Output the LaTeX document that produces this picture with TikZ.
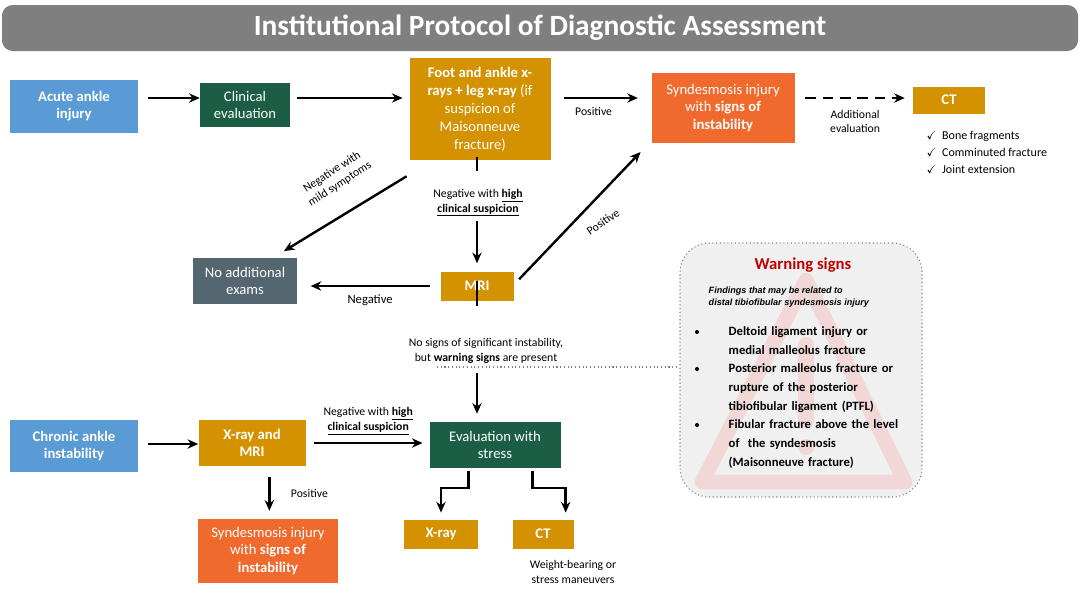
\documentclass[tikz,border=0pt]{standalone}
\usepackage{amssymb}
\usepackage{fontspec}
\setmainfont{Carlito}
\newfontfamily\arialf{Liberation Sans}
\usetikzlibrary{arrows.meta,positioning}
\definecolor{cblue}{HTML}{5B9BD5}
\definecolor{cgreen}{HTML}{1B5E45}
\definecolor{cgold}{HTML}{D49200}
\definecolor{corange}{HTML}{F06A2E}
\definecolor{cslate}{HTML}{546670}
\definecolor{ctitle}{HTML}{7F7F7F}
\definecolor{cred}{HTML}{C00000}
\tikzset{
 box/.style={draw=none,fill=#1,text=white,align=center,inner sep=2pt,font=\fontsize{11}{13}\selectfont},
 arr/.style={line width=1.8pt,-{Stealth[length=8pt,width=7pt]}},
 lab/.style={font=\fontsize{8.8}{10.8}\selectfont,align=center,text=black},
}
\begin{document}
\begin{tikzpicture}[x=0.75pt,y=-0.75pt]
\useasboundingbox (0,0) rectangle (1080,594);
\fill[white] (0,0) rectangle (1080,594);
% title
\node[fill=ctitle,rounded corners=8pt,minimum width=1076*0.75pt,minimum height=46*0.75pt,text=white,font=\fontsize{22}{24}\selectfont\bfseries] (title) at (540,28) {Institutional Protocol of Diagnostic Assessment};
% warning box
\node[draw=gray,dotted,line width=0.8pt,fill=black!6,rounded corners=22pt,minimum width=242*0.75pt,minimum height=254*0.75pt] (warn) at (801,370) {};
\draw[red!60!white,opacity=0.18,line width=11pt,line join=round] (702,482)--(806,280)--(905,482)--cycle;
\draw[red!60!white,opacity=0.18,line width=12pt,line cap=round] (806,345)--(806,420);
\fill[red!60!white,opacity=0.18] (806,447) circle (8);
\node[text=cred,font=\fontsize{12.5}{14}\selectfont\bfseries] (wt) at (803,265) {Warning signs};
\node[font=\arialf\fontsize{6.8}{9}\selectfont\bfseries\itshape,align=left,anchor=west] (wsub) at (704,297) {Findings that may be related to\\distal tibiofibular syndesmosis injury};
\node[font=\fontsize{9.5}{14}\selectfont\bfseries,align=left,anchor=north west,text width=190*0.75pt] (wl) at (724,322) {Deltoid ligament injury or\\medial malleolus fracture\\Posterior malleolus fracture or\\rupture of the posterior\\tibiofibular ligament (PTFL)\\Fibular fracture above the level\\of\ \ the syndesmosis\\(Maisonneuve fracture)};
\foreach \yy in {332,369,425}{\fill (697,\yy) circle (2);}
% boxes
\node[box=cblue,minimum width=128*0.75pt,minimum height=53*0.75pt] (acute) at (74,106) {\bfseries Acute ankle\\\bfseries injury};
\node[box=cgreen,minimum width=90*0.75pt,minimum height=44*0.75pt] (clin) at (245,105) {Clinical\\evaluation};
\node[box=cgold,minimum width=141*0.75pt,minimum height=102*0.75pt,font=\fontsize{11}{13.5}\selectfont] (foot) at (480,109) {\bfseries Foot and ankle x-\\\bfseries rays + leg x-ray \mdseries(if\\suspicion of\\Maisonneuve\\fracture)};
\node[box=corange,minimum width=143*0.75pt,minimum height=70*0.75pt] (synd) at (723,108) {Syndesmosis injury\\with \textbf{signs of}\\\textbf{instability}};
\node[box=cgold,minimum width=72*0.75pt,minimum height=27*0.75pt] (ct) at (949,100) {\bfseries CT};
\node[lab,align=left,anchor=north west,font=\fontsize{9}{12.8}\selectfont] (check) at (922,126) {$\checkmark$\ \ Bone fragments\\$\checkmark$\ \ Comminuted fracture\\$\checkmark$\ \ Joint extension};
\node[box=cslate,minimum width=104*0.75pt,minimum height=46*0.75pt] (noadd) at (245,281) {No additional\\exams};
\node[box=cgold,minimum width=73*0.75pt,minimum height=29*0.75pt] (mri) at (477,286) {\bfseries MRI};
\node[box=cblue,minimum width=128*0.75pt,minimum height=52*0.75pt] (chron) at (74,446) {\bfseries Chronic ankle\\\bfseries instability};
\node[box=cgold,minimum width=107*0.75pt,minimum height=46*0.75pt] (xmri) at (252,443) {\bfseries X-ray and\\\bfseries MRI};
\node[box=cgreen,minimum width=131*0.75pt,minimum height=46*0.75pt] (eval) at (495,445) {Evaluation with\\stress};
\node[box=corange,minimum width=140*0.75pt,minimum height=64*0.75pt] (synd2) at (268,551) {Syndesmosis injury\\with \textbf{signs of}\\\textbf{instability}};
\node[box=cgold,minimum width=74*0.75pt,minimum height=29*0.75pt] (xray) at (441,534) {\bfseries X-ray};
\node[box=cgold,minimum width=61*0.75pt,minimum height=29*0.75pt] (ct2) at (543,534) {\bfseries CT};
\node[lab] (wb) at (573,572) {Weight-bearing or\\stress maneuvers};
% connectors
\draw[arr] (acute.east)++(10,-8) coordinate (a1) -- (clin.west|-a1);
\draw[arr] (clin.east)++(7,-7) coordinate (a2) -- ([xshift=-5pt]foot.west|-a2);
\draw[arr] ([xshift=10pt,yshift=7.5pt]foot.east|-synd) coordinate (a3) -- ([xshift=-10pt]synd.west|-a3) node[lab,pos=0.4,below=3pt] {Positive};
\draw[line width=1.8pt,dashed,dash pattern=on 8pt off 5pt,-{Stealth[length=8pt,width=7pt]}] ([xshift=8pt,yshift=7.5pt]synd.east) -- ([xshift=-6pt,yshift=1.5pt]ct.west) node[lab,midway,below=5pt] {Additional\\evaluation};
\draw[arr] ([xshift=-2pt,yshift=-12pt]foot.south west) -- ([xshift=-10pt,yshift=5pt]noadd.north east);
\node[lab,rotate=33] (l0) at (336,178) {Negative with\\mild symptoms};
\draw[line width=1.8pt] ([yshift=-8pt]foot.south-|mri) -- ++(0,-14);
\draw[arr] (mri|-0,207) ++(0,14) -- ([yshift=6pt]mri.north);
\node[lab] (l1) at (478,203) {Negative with \underline{\textbf{high}}\\\underline{\textbf{clinical suspicion}}};
\draw[arr] ([xshift=4pt,yshift=-6pt]mri.north east) -- ([xshift=-8pt]synd.south west|-0,152);
\node[lab,rotate=34.5] (lp) at (603,222) {Positive};
\draw[arr] ([xshift=-8pt]mri.west) -- ([xshift=10pt]noadd.east|-mri) node[lab,midway,below=2pt,font=\fontsize{9.5}{11}\selectfont] {Negative};
\draw[gray,dotted,line width=0.8pt] (437,367) -- (warn.west|-0,367);
\draw[line width=1.8pt] ([yshift=-4pt]mri.south) -- ++(0,-25);
\draw[arr] (mri|-0,373) -- ([yshift=6pt]mri|-eval.north);
\node[lab] (l2) at (486,351) {No signs of significant instability,\\but \textbf{warning signs} are present};
\draw[arr] (chron.east)++(10,-2) coordinate (a4) -- (xmri.west|-a4);
\draw[arr] ([xshift=6pt]xmri.east) -- ([xshift=-5pt]eval.west|-xmri) node[lab,midway,above=2pt] {Negative with \underline{\textbf{high}}\\\underline{\textbf{clinical suspicion}}};
\draw[arr] ([xshift=13pt,yshift=-8pt]xmri.south) -- ([xshift=13pt,yshift=6pt]xmri.south|-synd2.north) node[lab,midway,right=12pt] {Positive};
\draw[arr] ([xshift=-20pt,yshift=-2pt]eval.south) |- (xray|-0,488) -- ([yshift=5pt]xray.north);
\draw[arr] ([xshift=28pt,yshift=-2pt]eval.south) |- ([xshift=17pt]ct2.north|-0,488) -- ([xshift=17pt,yshift=5pt]ct2.north);
\end{tikzpicture}
\end{document}
